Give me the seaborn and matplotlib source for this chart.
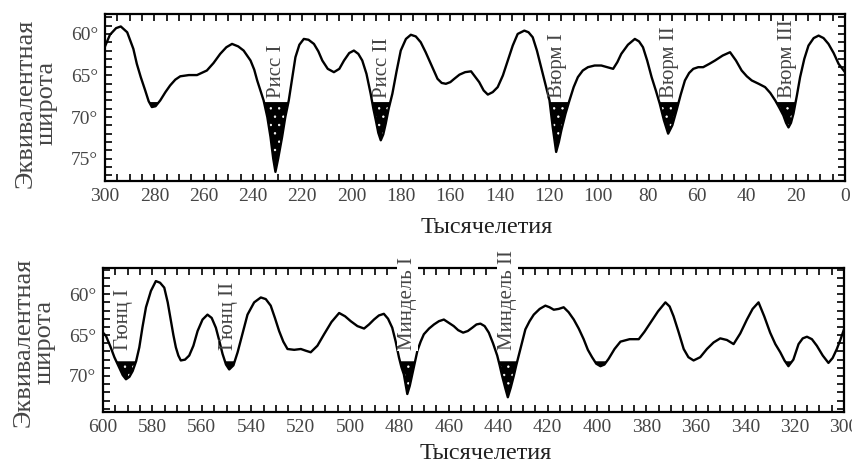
import matplotlib
matplotlib.use("Agg")
import matplotlib.pyplot as plt
from matplotlib.ticker import MultipleLocator, FuncFormatter
import pandas as pd
import seaborn as sns

# Equivalent latitude of summer insolation, last 300 thousand years
kyr_recent = [300, 298, 295.5, 293.6, 291, 288.5, 287.1, 285.5, 283.7, 282.3,
              281, 279.5, 277.6, 275.5, 273.6, 271.5, 269.5, 266, 262.7, 258.7,
              256, 253.3, 250.8, 248.5, 246, 243.8, 241, 239.5, 238.3, 237,
              235.7, 234.2, 232.9, 231.8, 230.9, 229.8, 228.2, 226.9, 225.5, 224.2,
              222.8, 221.2, 219.4, 217.5, 215.3, 213.5, 211.9, 209.7, 207.2, 205,
              203.1, 201, 199.1, 197.3, 195.7, 194, 192.3, 191.2, 190.2, 189.2,
              188.2, 187.2, 186.2, 185, 183.5, 181.8, 180.1, 178, 176, 174,
              172, 170, 167.9, 165.2, 163.5, 161.8, 160, 158.4, 156.3, 154,
              151.6, 148.3, 146.5, 144.8, 142.8, 140.8, 138.7, 136.7, 134.7, 132.7,
              130, 128.3, 126.6, 124.9, 123.2, 121.5, 119.8, 118.5, 117.1, 116,
              115, 113.3, 111.7, 110, 108.3, 106.3, 104.2, 101.5, 98.8, 96.4,
              94, 92.3, 90.7, 88, 85.2, 83.5, 81.9, 80.2, 78.4, 76.7,
              75.1, 73.4, 71.7, 70, 68.3, 66.6, 64.9, 63.2, 61.5, 59.5,
              57.5, 55, 52.7, 49.6, 46.6, 44.2, 41.9, 39.8, 37.8, 35,
              32.4, 30.3, 28.3, 26.6, 25, 23.9, 22.9, 21.9, 20.9, 19.5,
              18.2, 16.5, 14.8, 12.7, 10.7, 8.7, 6.7, 4.6, 2.6, 0]
lat_recent = [61.5, 60.1, 59.3, 59.1, 59.8, 61.8, 63.6, 65.2, 66.8, 68.1,
              68.8, 68.7, 68.0, 67.0, 66.2, 65.5, 65.1, 64.95, 64.95, 64.4,
              63.5, 62.4, 61.6, 61.2, 61.5, 62.0, 63.2, 64.3, 65.6, 66.8,
              68.0, 70.0, 72.4, 75.0, 76.6, 75.0, 72.4, 70.0, 68.0, 65.5,
              62.8, 61.3, 60.6, 60.7, 61.2, 62.1, 63.2, 64.2, 64.6, 64.2,
              63.2, 62.3, 62.0, 62.4, 63.2, 64.8, 67.2, 69.0, 70.4, 71.9,
              72.8, 72.1, 70.8, 69.0, 67.2, 64.5, 62.0, 60.6, 60.1, 60.3,
              61.0, 62.2, 63.6, 65.4, 65.9, 66.0, 65.8, 65.4, 64.9, 64.6,
              64.5, 65.8, 66.8, 67.3, 67.0, 66.4, 65.0, 63.2, 61.4, 60.0,
              59.6, 59.8, 60.4, 62.0, 64.0, 66.0, 68.0, 71.2, 74.2, 73.0,
              71.6, 69.6, 68.0, 66.4, 65.2, 64.4, 64.0, 63.8, 63.8, 64.0,
              64.2, 63.4, 62.4, 61.3, 60.6, 60.9, 61.6, 63.2, 65.2, 66.8,
              68.4, 70.4, 72.0, 71.0, 69.2, 67.3, 65.6, 64.7, 64.2, 64.0,
              64.0, 63.6, 63.2, 62.6, 62.2, 63.2, 64.4, 65.1, 65.6, 66.0,
              66.4, 67.1, 68.0, 68.9, 69.8, 70.7, 71.25, 70.7, 69.6, 67.4,
              65.2, 63.0, 61.4, 60.5, 60.2, 60.5, 61.2, 62.3, 63.6, 64.6]

# Equivalent latitude, 600 to 300 thousand years ago
kyr_early = [600, 598.8, 597, 595.4, 593.4, 592, 590.7, 589.3, 588, 586.6,
             585.3, 584, 582.6, 580.6, 578.6, 576.9, 575.2, 573.8, 572.5, 571.5,
             570.5, 569.5, 568.5, 566.8, 565.1, 563.4, 561.7, 559.7, 557.7, 556,
             554.3, 553, 551.6, 550.2, 548.9, 547.2, 545.5, 543.5, 541.5, 538.8,
             536.1, 534.1, 532.1, 530.4, 528.7, 527, 525.3, 522.6, 519.9, 518,
             515.9, 513.2, 510.5, 507.5, 504.4, 502, 499.7, 497, 494.3, 492.3,
             490.3, 488.3, 486.3, 484.6, 482.9, 481.5, 480.2, 479.2, 478.2, 477.5,
             476.8, 475.8, 474.8, 473.7, 472.7, 471.4, 470.1, 468, 466, 464,
             462, 460, 458, 456.2, 454.2, 452.3, 450.5, 448.8, 447.2, 445.5,
             443.8, 442.1, 440.4, 439.4, 438.4, 437.2, 436.1, 434.9, 433.7, 432.7,
             431.7, 430.3, 429, 427.3, 425.6, 423.2, 420.9, 419.2, 417.5, 415.5,
             413.5, 411.5, 409.4, 407.4, 405.4, 403.7, 402, 400.3, 398.6, 397,
             395.3, 392.9, 390.5, 386.8, 383.1, 380.8, 378.4, 375.3, 372.3, 370.6,
             369, 367, 364.9, 363, 360.9, 358.2, 355.5, 352.8, 350.1, 347.4,
             344.7, 342, 339.3, 337, 334.6, 332.3, 329.9, 327.8, 325.8, 324.1,
             322.5, 320.5, 318.4, 316.7, 315, 313, 311, 308.6, 306.3, 304.6,
             302.9, 301.5, 300]
lat_early = [64.7, 65.1, 66.4, 67.7, 69.0, 69.9, 70.4, 70.1, 69.4, 68.2,
             66.5, 64.0, 61.6, 59.6, 58.4, 58.6, 59.2, 61.0, 63.3, 65.0,
             66.5, 67.5, 68.1, 68.0, 67.5, 66.3, 64.5, 63.1, 62.5, 62.9,
             64.1, 65.6, 67.3, 68.6, 69.2, 68.7, 67.1, 64.8, 62.5, 61.0,
             60.4, 60.6, 61.4, 62.9, 64.5, 65.8, 66.7, 66.8, 66.7, 66.9,
             67.1, 66.3, 64.9, 63.4, 62.3, 62.7, 63.3, 63.9, 64.2, 63.7,
             63.1, 62.6, 62.4, 63.0, 64.1, 65.8, 67.7, 68.9, 69.8, 71.0,
             72.2, 71.2, 69.8, 68.3, 66.9, 65.8, 64.9, 64.2, 63.7, 63.3,
             63.1, 63.5, 63.9, 64.4, 64.7, 64.5, 64.1, 63.7, 63.6, 63.9,
             64.7, 66.0, 67.5, 68.7, 70.0, 71.4, 72.6, 71.4, 70.0, 68.7,
             67.5, 65.8, 64.3, 63.3, 62.5, 61.8, 61.4, 61.6, 61.9, 61.8,
             61.6, 62.2, 63.1, 64.2, 65.5, 66.8, 67.7, 68.5, 68.8, 68.6,
             67.9, 66.7, 65.8, 65.5, 65.5, 64.6, 63.5, 62.1, 61.0, 61.5,
             62.7, 64.6, 66.7, 67.7, 68.1, 67.7, 66.7, 65.9, 65.4, 65.6,
             66.1, 64.8, 63.1, 61.8, 61.0, 62.7, 64.7, 66.1, 67.1, 68.1,
             68.8, 68.0, 66.1, 65.4, 65.2, 65.5, 66.3, 67.5, 68.4, 67.8,
             66.7, 65.6, 64.3]

# Glaciation names and the ages at which they are written
names_recent = ["Рисс I", "Рисс II", "Вюрм I", "Вюрм II", "Вюрм III"]
names_recent_kyr = [230.5, 187.6, 116.6, 71.3, 23.3]
names_early = ["Гюнц I", "Гюнц II", "Миндель I", "Миндель II"]
names_early_kyr = [591.5, 549.3, 476.7, 436.1]

# Cold phases: latitude poleward of this value is shaded
threshold = 68.2

sns.set_theme(style="ticks")
plt.rcParams["font.family"] = ["Liberation Serif", "DejaVu Serif"]
plt.rcParams["hatch.linewidth"] = 0.5

W, H = 852, 468
fig = plt.figure(figsize=(W / 100, H / 100), dpi=100)
ax_top = fig.add_axes([105 / W, 1 - 181 / H, 740 / W, 167 / H])
ax_bot = fig.add_axes([103 / W, 1 - 412 / H, 741 / W, 144 / H])

text_grey = "#454545"


def draw_panel(ax, kyr, lat, xlim, ylim, names, names_kyr, name_lat,
               ylab_y, masked):
    df = pd.DataFrame({"kyr": kyr, "lat": lat})
    sns.lineplot(data=df, x="kyr", y="lat", ax=ax, color="black", lw=1.7,
                 sort=False, estimator=None, zorder=3)
    ax.fill_between(df["kyr"], df["lat"], threshold,
                    where=df["lat"] > threshold, interpolate=True,
                    facecolor="black", edgecolor="white", hatch="..",
                    linewidth=0, zorder=2)
    ax.set_xlim(*xlim)
    ax.set_ylim(*ylim)

    ax.xaxis.set_major_locator(MultipleLocator(20))
    ax.xaxis.set_minor_locator(MultipleLocator(5))
    ax.yaxis.set_major_locator(MultipleLocator(5))
    ax.yaxis.set_minor_locator(MultipleLocator(1))
    ax.xaxis.set_major_formatter(FuncFormatter(lambda v, p: f"{v:.0f}"))
    ax.yaxis.set_major_formatter(FuncFormatter(lambda v, p: f"{v:.0f}°"))
    ax.tick_params(which="both", direction="in", top=True, right=True,
                   length=5, width=1.2, color="black")
    ax.tick_params(axis="both", which="major", labelsize=14,
                   labelcolor=text_grey, pad=5)
    for sp in ax.spines.values():
        sp.set_linewidth(1.6)
        sp.set_color("black")

    for name, k in zip(names, names_kyr):
        # names that run over the frame get a white backing
        box = (dict(facecolor="white", edgecolor="none", pad=0.6)
               if name in masked else None)
        ax.text(k, name_lat, name, rotation=90, ha="center", va="bottom",
                fontsize=15, color=text_grey, zorder=6, clip_on=False,
                bbox=box)

    ax.set_xlabel("Тысячелетия", fontsize=17.5, color="#222222", va="top")
    ax.xaxis.set_label_coords(0.516, -0.215)
    ax.set_ylabel("Эквивалентная\nширота", fontsize=19, color=text_grey,
                  linespacing=0.9, ha="center", va="center")
    ax.yaxis.set_label_coords(-0.093, ylab_y)


draw_panel(ax_top, kyr_recent, lat_recent, (300, 0), (77.7, 57.6),
           names_recent, names_recent_kyr, 67.7, 0.467, [])
draw_panel(ax_bot, kyr_early, lat_early, (600, 300), (74.4, 56.8),
           names_early, names_early_kyr, 66.8, 0.486,
           ["Миндель I", "Миндель II"])

fig.savefig("out.png", dpi=100, facecolor="white")
